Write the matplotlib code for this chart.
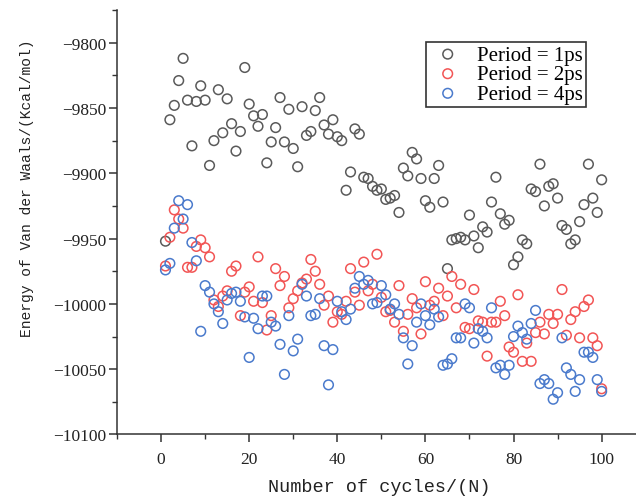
import numpy as np
import matplotlib
matplotlib.use("Agg")
from matplotlib import pyplot as plt
from matplotlib.ticker import MultipleLocator

cycles = np.arange(1, 101)

period_1ps = [-9952, -9859, -9848, -9829, -9812, -9844, -9879, -9845, -9833, -9844,
              -9894, -9875, -9836, -9869, -9843, -9862, -9883, -9868, -9819, -9847,
              -9856, -9864, -9855, -9892, -9876, -9865, -9842, -9876, -9851, -9881,
              -9895, -9849, -9871, -9868, -9852, -9842, -9863, -9870, -9859, -9872,
              -9875, -9913, -9899, -9866, -9870, -9903, -9904, -9910, -9913, -9912,
              -9920, -9919, -9917, -9930, -9896, -9902, -9884, -9889, -9904, -9921,
              -9926, -9904, -9894, -9922, -9973, -9951, -9950, -9949, -9951, -9932,
              -9948, -9957, -9941, -9945, -9922, -9903, -9931, -9939, -9936, -9970,
              -9964, -9951, -9954, -9912, -9914, -9893, -9925, -9910, -9908, -9919,
              -9940, -9943, -9954, -9951, -9937, -9924, -9893, -9919, -9930, -9905]

period_2ps = [-9971, -9949, -9928, -9935, -9942, -9972, -9972, -9956, -9951, -9957,
              -9964, -9997, -10002, -9994, -9990, -9975, -9971, -10009, -9991, -9987,
              -9998, -9964, -9999, -10020, -10009, -9973, -9986, -9979, -10003, -9996,
              -9990, -9984, -9981, -9966, -9975, -9985, -10001, -9994, -10014, -10006,
              -10008, -9998, -9973, -9991, -10001, -9968, -9990, -9985, -9962, -9995,
              -10006, -10005, -10014, -9986, -10021, -10008, -9996, -10003, -10023, -9983,
              -10001, -9998, -9988, -10009, -9994, -9979, -10003, -9985, -10018, -10019,
              -9989, -10013, -10014, -10040, -10014, -10014, -9998, -10009, -10033, -10037,
              -9993, -10044, -10030, -10044, -10022, -10014, -10023, -10008, -10015, -10008,
              -9989, -10024, -10012, -10006, -10026, -10002, -9997, -10026, -10032, -10065]

period_4ps = [-9974, -9969, -9942, -9921, -9935, -9924, -9953, -9967, -10021, -9986,
              -9991, -10000, -10006, -10015, -9997, -9992, -9991, -9998, -10010, -10041,
              -10011, -10019, -9994, -9994, -10014, -10017, -10031, -10054, -10009, -10036,
              -10027, -9985, -9994, -10009, -10008, -9996, -10032, -10062, -10035, -9998,
              -10006, -10012, -10004, -9988, -9979, -9985, -9982, -10000, -9999, -9986,
              -9993, -10004, -10000, -10008, -10026, -10046, -10032, -10014, -10000, -10009,
              -10016, -10004, -10010, -10047, -10046, -10042, -10026, -10026, -10000, -10003,
              -10030, -10019, -10021, -10026, -10003, -10049, -10047, -10054, -10047, -10025,
              -10017, -10022, -10027, -10015, -10005, -10061, -10058, -10061, -10073, -10068,
              -10026, -10049, -10054, -10067, -10058, -10037, -10037, -10041, -10058, -10067]

labels = ["Period = 1ps", "Period = 2ps", "Period = 4ps"]
colors = ["#5a5a5a", "#f25555", "#4a7acc"]

fig = plt.figure(figsize=(6.36, 5.02), dpi=100)
ax = fig.add_axes([0.184, 0.1325, 0.816, 0.8455])

for vals, lab, col in zip([period_1ps, period_2ps, period_4ps], labels, colors):
    ax.scatter(cycles, vals, s=48, facecolors="none", edgecolors=col,
               linewidths=1.1, label=lab)

ax.set_xlim(-10, 107.8)
ax.set_ylim(-10100, -9775)
ax.xaxis.set_major_locator(MultipleLocator(20))
ax.xaxis.set_minor_locator(MultipleLocator(10))
ax.yaxis.set_major_locator(MultipleLocator(50))
ax.yaxis.set_minor_locator(MultipleLocator(25))
ax.set_xticks([0, 20, 40, 60, 80, 100])

for s in ["top", "right"]:
    ax.spines[s].set_visible(False)
for s in ["left", "bottom"]:
    ax.spines[s].set_linewidth(1.1)
    ax.spines[s].set_color("#333333")

ax.tick_params(which="major", direction="out", length=6, width=1.1, color="#333333")
ax.tick_params(which="minor", direction="out", length=3.5, width=1.0, color="#333333")
ax.tick_params(axis="x", which="major", pad=6)
ax.tick_params(axis="y", which="major", pad=1.5)
for t in ax.get_xticklabels() + ax.get_yticklabels():
    t.set_fontfamily("Liberation Serif")
    t.set_fontsize(12.5)
    t.set_color("#222222")

leg = ax.legend(loc="upper left", bbox_to_anchor=(0.595, 0.925), borderaxespad=0,
                prop={"family": "Liberation Serif", "size": 15},
                handlelength=1.8, handletextpad=0.5, borderpad=0.15,
                labelspacing=0.0, fancybox=False, framealpha=1)
leg.get_frame().set_edgecolor("#333333")
leg.get_frame().set_linewidth(1.2)

fig.text(27 / 636, 1 - 188 / 502, "Energy of Van der Waals/(Kcal/mol)",
         rotation=90, ha="center", va="center", family="Liberation Mono",
         fontsize=10.5, color="#222222")
fig.text(379 / 636, 1 - 488 / 502, "Number of cycles/(N)",
         ha="center", va="center", family="Liberation Mono",
         fontsize=13.3, color="#222222")

fig.savefig("out.png", dpi=100)
